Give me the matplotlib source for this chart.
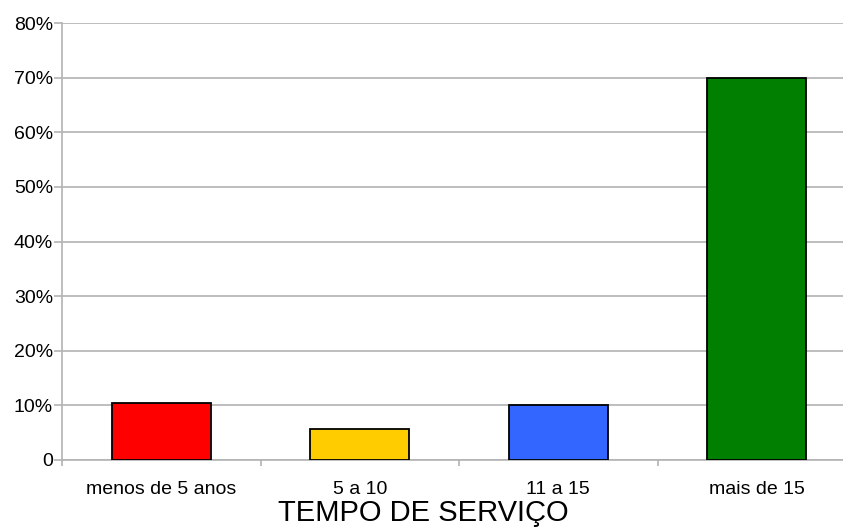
import matplotlib
matplotlib.use("Agg")
import matplotlib.pyplot as plt
from matplotlib.ticker import FixedLocator

categories = ["menos de 5 anos", "5 a 10", "11 a 15", "mais de 15"]
values = [10.4, 5.7, 10.0, 70.0]
colors = ["#ff0000", "#ffcc00", "#3366ff", "#007f00"]
yticks = [0, 10, 20, 30, 40, 50, 60, 70, 80]
ytick_labels = ["0", "10%", "20%", "30%", "40%", "50%", "60%", "70%", "80%"]
xlabel = "TEMPO DE SERVIÇO"

plt.rcParams['font.family'] = ['Liberation Sans', 'DejaVu Sans']
fig = plt.figure(figsize=(8.43, 5.27), dpi=100)
ax = fig.add_axes([62/843, 1-460/527, 794/843, 437/527])

x = list(range(len(categories)))
ax.bar(x, values, width=0.5, color=colors, edgecolor="black", linewidth=1.3, zorder=3)
ax.set_xlim(-0.5, len(categories) - 0.5)
ax.set_ylim(0, 80)
ax.set_yticks(yticks)
ax.set_yticklabels(ytick_labels, fontsize=14)
ax.set_xticks(x)
ax.set_xticklabels(categories, fontsize=14)
ax.xaxis.set_minor_locator(FixedLocator([i - 0.5 for i in range(len(categories) + 1)]))
ax.tick_params(axis='x', which='major', length=0, pad=15)
ax.tick_params(axis='x', which='minor', length=4, color="#b3b3b3", width=1.2)
ax.tick_params(axis='y', length=6, color="#b3b3b3", width=1.2, pad=0.5)
ax.yaxis.grid(True, color="#b3b3b3", linewidth=1.2, zorder=0)
ax.set_axisbelow(True)
for s in ["top", "right"]:
    ax.spines[s].set_visible(False)
for s in ["left", "bottom"]:
    ax.spines[s].set_color("#b3b3b3")
    ax.spines[s].set_linewidth(1.2)
ax.set_xlabel(xlabel, fontsize=21, labelpad=0.5)
ax.xaxis.label.set_x((423.5 - 62) / 794)

fig.savefig("out.png", dpi=100)
